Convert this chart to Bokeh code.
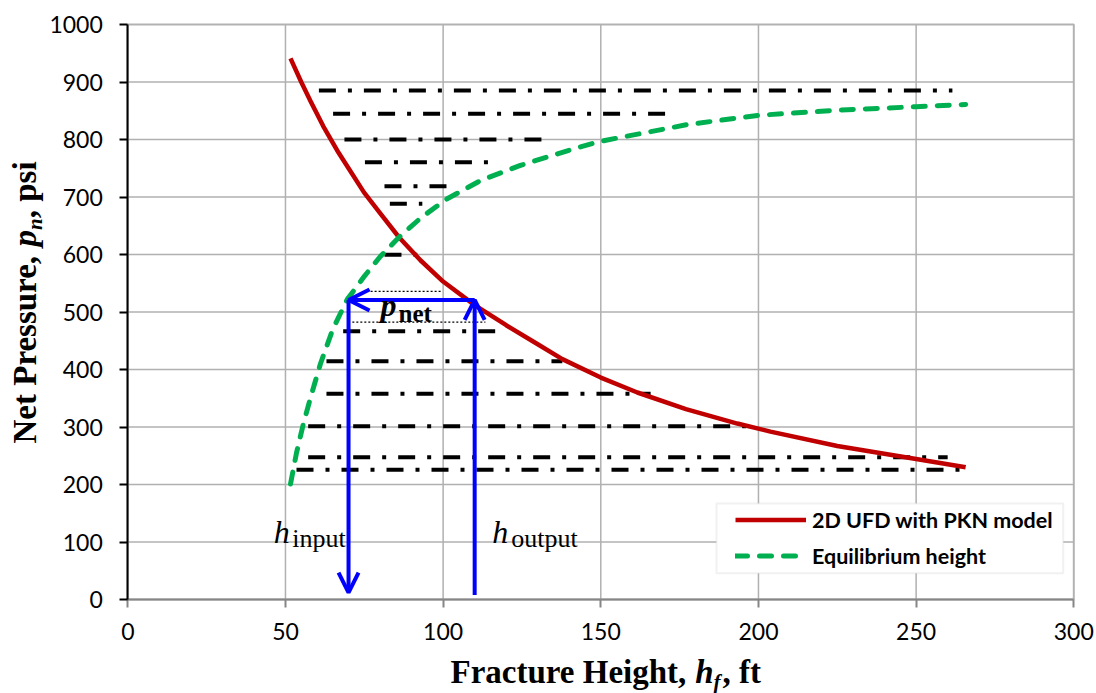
import math
from bokeh.plotting import figure
from bokeh.models import (Label, Arrow, OpenHead, Legend, LegendItem,
                          BoxAnnotation, FixedTicker, Range1d)
from bokeh.embed import file_html
from bokeh.resources import INLINE

# ---------------- data ----------------
h_ufd = [51.6, 55, 58, 62, 66.4, 70, 74.9, 80, 86, 92.8, 100, 110, 120,
         130, 137.8, 150, 161.6, 177, 193.3, 203.8, 225, 250, 265.7]
p_ufd = [941, 900, 866, 823, 781, 750, 708, 672, 630, 590, 553, 512, 477,
         444, 418, 386, 360, 331, 306, 292, 267, 244.5, 230]

h_eq = [51.6, 53.5, 55.7, 58, 61.1, 65, 69.6, 75, 80, 86, 93, 101, 112,
        124.5, 141.5, 150, 177.5, 200, 225, 250, 265.7]
p_eq = [201, 255, 306, 352, 410, 470, 522, 562, 596, 630, 664, 696, 729,
        755, 784, 797, 826, 842, 851, 857, 861]

layer_p = [885.2, 844.7, 800.0, 760.5, 718.8, 688.2, 599.5,
           466.6, 414.4, 357.7, 301.4, 247.5, 225.6]
layer_h_start = [60.6, 65.1, 68.7, 75.2, 81.4, 83.1, 81.4,
                 68.3, 63.0, 63.0, 57.2, 57.2, 53.5]
layer_h_end = [261.5, 172.1, 133.4, 117.6, 104.5, 93.4, 91.8,
               120.3, 137.8, 165.8, 199.7, 260.0, 266.0]

dot_p = [535.7, 482.3]
dot_h_start = [77.0, 71.2]
dot_h_end = [99.2, 113.4]

h_input = 70
h_output = 110
p_net = 521
p_arrow_input_tip = 12
p_arrow_output_base = 8

x_ticks = [0, 50, 100, 150, 200, 250, 300]
y_ticks = [0, 100, 200, 300, 400, 500, 600, 700, 800, 900, 1000]

RED = "#C00000"
GREEN = "#00B050"
BLUE = "#0000FF"
SERIF = "Liberation Serif"
SANS = "Lato"

# ---------------- layout geometry (pixels) ----------------
W, H = 1096, 693
PX0, PX1 = 127.3, 1073.3     # plot area left / right
PY0, PY1 = 599.0, 24.0       # plot area bottom / top
XMIN, XMAX = x_ticks[0], x_ticks[-1]
YMIN, YMAX = y_ticks[0], y_ticks[-1]
SX = (PX1 - PX0) / (XMAX - XMIN)
SY = (PY0 - PY1) / (YMAX - YMIN)

def dx(px):
    return XMIN + (px - PX0) / SX

def dy(py):
    return YMIN + (PY0 - py) / SY

p = figure(width=W, height=H,
           x_range=Range1d(dx(0), dx(W)), y_range=Range1d(dy(H), dy(0)),
           output_backend="svg", toolbar_location=None,
           min_border=0, min_border_left=0, min_border_right=0,
           min_border_top=0, min_border_bottom=0)
p.background_fill_color = "white"
p.border_fill_color = "white"
p.outline_line_color = None
p.xgrid.visible = False
p.ygrid.visible = False

# plot-area border (top/right visible; left/bottom covered by the axes)
p.add_layout(BoxAnnotation(left=XMIN, right=XMAX, bottom=YMIN, top=YMAX,
                           fill_alpha=0, line_color="black", line_width=2,
                           level="underlay"))

# grid lines
p.segment(x0=x_ticks[1:-1], y0=YMIN, x1=x_ticks[1:-1], y1=YMAX,
          line_color="#B0B0B0", line_width=1.5)
p.segment(x0=XMIN, y0=y_ticks[1:-1], x1=XMAX, y1=y_ticks[1:-1],
          line_color="#B0B0B0", line_width=1.5)

# axes drawn at the plot-area edges
p.xaxis.fixed_location = YMIN
p.yaxis.fixed_location = XMIN
p.xaxis.bounds = (XMIN, XMAX)
p.yaxis.bounds = (YMIN, YMAX)
p.xaxis.ticker = FixedTicker(ticks=x_ticks)
p.yaxis.ticker = FixedTicker(ticks=y_ticks)
for ax in (p.xaxis[0], p.yaxis[0]):
    ax.major_tick_in = 0
    ax.major_tick_out = 8
    ax.minor_tick_in = 0
    ax.minor_tick_out = 0
    ax.axis_line_width = 2
    ax.major_tick_line_width = 2
    ax.major_label_text_font = SANS
    ax.major_label_text_font_size = "23px"
    ax.major_label_text_color = "black"
p.yaxis.axis_line_color = "black"
p.yaxis.major_tick_line_color = "black"
p.yaxis.major_label_standoff = 17
p.xaxis.axis_line_color = "#868686"
p.xaxis.major_tick_line_color = "#868686"
p.xaxis.major_label_standoff = 15

# layer lines (dash-dot)
p.segment(x0=layer_h_start, y0=layer_p, x1=layer_h_end, y1=layer_p,
          line_color="black", line_width=4, line_dash="17 12 4 12")
# thin dotted lines
p.segment(x0=dot_h_start, y0=dot_p, x1=dot_h_end, y1=dot_p,
          line_color="black", line_width=1.2, line_dash="2 2")

r_red = p.line(h_ufd, p_ufd, line_color=RED, line_width=4.5, line_join="round")
r_green = p.line(h_eq, p_eq, line_color=GREEN, line_width=5,
                 line_dash="12 12", line_cap="round", line_join="round")

# blue arrows
p.add_layout(Arrow(x_start=h_output, y_start=p_net, x_end=h_input, y_end=p_net,
                   line_color=BLUE, line_width=4,
                   end=OpenHead(size=21, line_color=BLUE, line_width=4)))
p.add_layout(Arrow(x_start=h_input, y_start=p_net, x_end=h_input, y_end=p_arrow_input_tip,
                   line_color=BLUE, line_width=4,
                   end=OpenHead(size=20, line_color=BLUE, line_width=4)))
p.add_layout(Arrow(x_start=h_output, y_start=p_arrow_output_base, x_end=h_output, y_end=p_net,
                   line_color=BLUE, line_width=4,
                   end=OpenHead(size=20, line_color=BLUE, line_width=4)))

def lab(px, py, text, size, style, angle=0.0, font=SERIF):
    # empirical correction between the wanted baseline and Bokeh's placement
    shift = 0.33 * size
    if angle:
        px -= shift
    else:
        py -= shift
    p.add_layout(Label(x=dx(px), y=dy(py), text=text,
                       text_font=font, text_font_size=f"{size}px", text_font_style=style,
                       text_align="left", text_baseline="alphabetic",
                       text_color="black", angle=angle))

# in-plot annotations
lab(380, 315, "p", 32, "bold italic")
lab(398, 321, "net", 25, "bold")
lab(273.3, 541.7, "h", 32, "italic")
lab(291.7, 546.7, "input", 26, "normal")
lab(491.7, 541.7, "h", 32, "italic")
lab(510.7, 546.7, "output", 26, "normal")

# axis titles
lab(450, 682, "Fracture Height,", 33, "bold")
lab(694.7, 682, "h", 33, "bold italic")
lab(713.0, 688, "f", 21, "bold italic")
lab(722.0, 682, ", ft", 33, "bold")

A = math.pi / 2
lab(35, 443, "Net Pressure,", 33, "bold", angle=A)
lab(35, 246, "p", 33, "bold italic", angle=A)
lab(41, 229.5, "n", 21, "bold italic", angle=A)
lab(35, 217.8, ", psi", 33, "bold", angle=A)

# legend box + legend
p.add_layout(BoxAnnotation(left=dx(716), right=dx(1062.7), bottom=dy(572.7), top=dy(503),
                           fill_color="white", fill_alpha=1.0,
                           line_color="#D0D0D0", line_width=2))
legend = Legend(items=[LegendItem(label="2D UFD with PKN model", renderers=[r_red]),
                       LegendItem(label="Equilibrium height", renderers=[r_green])],
                location=(735, H - 568.5), background_fill_alpha=0, border_line_alpha=0,
                padding=0, spacing=10, margin=0, glyph_width=71, glyph_height=25,
                label_height=25, label_standoff=6,
                label_text_font=SANS, label_text_font_style="bold",
                label_text_font_size="21.5px", label_text_color="black")
p.add_layout(legend)

open("out.html", "w").write(file_html(p, INLINE))
